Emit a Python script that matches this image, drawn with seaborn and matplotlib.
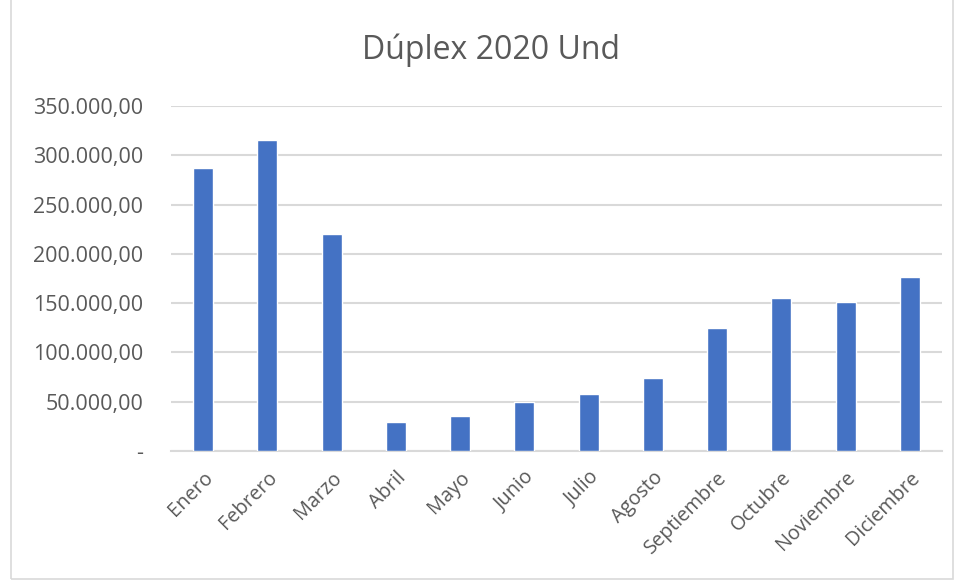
import matplotlib
matplotlib.use("Agg")
import matplotlib.pyplot as plt
import seaborn as sns
import pandas as pd
from matplotlib.patches import Rectangle

# monthly values
meses = ["Enero", "Febrero", "Marzo", "Abril", "Mayo", "Junio", "Julio",
         "Agosto", "Septiembre", "Octubre", "Noviembre", "Diciembre"]
unidades = [287000, 315500, 220500, 29000, 35800, 50000, 57500,
            74300, 125000, 155200, 151500, 176000]
y_ticks = [0, 50000, 100000, 150000, 200000, 250000, 300000, 350000]
y_labels = ["-", "50.000,00", "100.000,00", "150.000,00", "200.000,00",
            "250.000,00", "300.000,00", "350.000,00"]

df = pd.DataFrame({"mes": meses, "und": unidades})

sns.set_style("white")
plt.rcParams["font.family"] = ["Open Sans", "DejaVu Sans"]

fig = plt.figure(figsize=(9.57, 5.81), dpi=100)
ax = fig.add_axes([0.1787, 0.2237, 0.8056, 0.594])

sns.barplot(data=df, x="mes", y="und", color="#4472c4", width=0.31,
            saturation=1, ax=ax, zorder=3)

ax.set_ylim(0, 350000)
ax.set_xlim(-0.5, 11.5)
ax.set_yticks(y_ticks)
ax.set_yticklabels(y_labels)
ax.yaxis.grid(True, color="#d9d9d9", linewidth=1.5, zorder=0)
ax.set_xlabel("")
ax.set_ylabel("")
for s in ["top", "right", "left"]:
    ax.spines[s].set_visible(False)
ax.spines["bottom"].set_color("#d9d9d9")
ax.spines["bottom"].set_linewidth(1.5)
ax.tick_params(axis="both", length=0, labelcolor="#595959")
ax.tick_params(axis="y", pad=20, labelsize=15.5)
ax.tick_params(axis="x", pad=12, labelsize=14.3)
plt.setp(ax.get_xticklabels(), rotation=45, ha="right", rotation_mode="anchor")

fig.text(0.513, 0.914, "Dúplex 2020 Und", ha="center", va="center",
         fontsize=23, color="#595959")

# chart area border
fig.patches.append(Rectangle((0.011, 0.004), 0.985, 1.2, transform=fig.transFigure,
                             fill=False, edgecolor="#d9d9d9", linewidth=1.2))

fig.savefig("out.png", dpi=100)
